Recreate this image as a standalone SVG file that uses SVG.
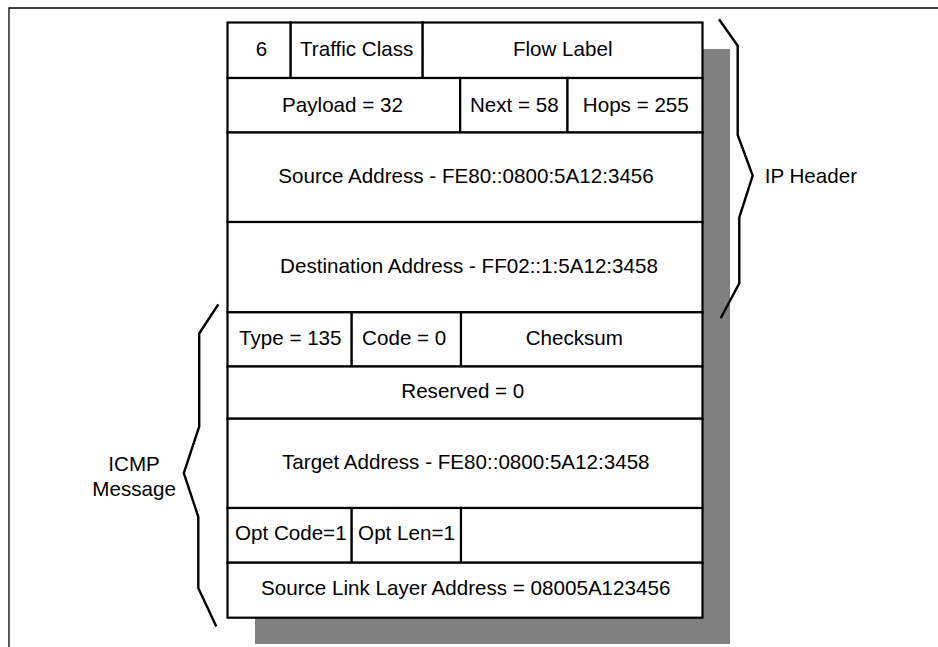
<svg xmlns="http://www.w3.org/2000/svg" width="938" height="647" viewBox="0 0 938 647">
<style>
.cell{fill:#fff;stroke:#000;stroke-width:2.2}
.t{font-family:"Liberation Sans",Arial,sans-serif;font-size:20.6px;fill:#000;text-anchor:middle}
.l{font-family:"Liberation Sans",Arial,sans-serif;font-size:20.6px;fill:#000}
.brace{fill:none;stroke:#000;stroke-width:2.4;stroke-linejoin:round;stroke-linecap:butt}
</style>
<rect width="938" height="647" fill="#fff"/>
<g id="frame">
<path d="M9,647 V8 H938" fill="none" stroke="#000" stroke-width="1.3"/>
</g>
<g id="shadow">
<rect x="255" y="49" width="475" height="595" fill="#808080"/>
</g>
<g id="ip-header">
<g id="version"><rect class="cell" x="227.5" y="22.5" width="63.2" height="55.5"/><text class="t" x="261.5" y="55.5">6</text></g>
<g id="traffic-class"><rect class="cell" x="290.7" y="22.5" width="132" height="55.5"/><text class="t" x="356.7" y="55.5">Traffic Class</text></g>
<g id="flow-label"><rect class="cell" x="422.7" y="22.5" width="279.8" height="55.5"/><text class="t" x="562.7" y="55.5">Flow Label</text></g>
<g id="payload"><rect class="cell" x="227.5" y="78" width="232.7" height="54.5"/><text class="t" x="342.5" y="111.7">Payload = 32</text></g>
<g id="next"><rect class="cell" x="460.2" y="78" width="107.3" height="54.5"/><text class="t" x="514.3" y="111.7">Next = 58</text></g>
<g id="hops"><rect class="cell" x="567.5" y="78" width="135" height="54.5"/><text class="t" x="635.8" y="111.7">Hops = 255</text></g>
<g id="source-address"><rect class="cell" x="227.5" y="132.5" width="475" height="89.5"/><text class="t" x="466" y="183.3">Source Address - FE80::0800:5A12:3456</text></g>
<g id="destination-address"><rect class="cell" x="227.5" y="222" width="475" height="90.3"/><text class="t" x="469" y="273.3">Destination Address - FF02::1:5A12:3458</text></g>
</g>
<g id="icmp-message">
<g id="type"><rect class="cell" x="227.5" y="312.3" width="124.2" height="54.2"/><text class="t" x="290.3" y="344.7">Type = 135</text></g>
<g id="code"><rect class="cell" x="351.7" y="312.3" width="109.3" height="54.2"/><text class="t" x="404.2" y="344.7">Code = 0</text></g>
<g id="checksum"><rect class="cell" x="461" y="312.3" width="241.5" height="54.2"/><text class="t" x="574.3" y="344.7">Checksum</text></g>
<g id="reserved"><rect class="cell" x="227.5" y="366.5" width="475" height="52.2"/><text class="t" x="462.8" y="397.7">Reserved = 0</text></g>
<g id="target-address"><rect class="cell" x="227.5" y="418.7" width="475" height="89.3"/><text class="t" x="465.8" y="469.3">Target Address - FE80::0800:5A12:3458</text></g>
<g id="opt-code"><rect class="cell" x="227.5" y="508" width="124.2" height="54.7"/><text class="t" x="290.8" y="539.7">Opt Code=1</text></g>
<g id="opt-len"><rect class="cell" x="351.7" y="508" width="109.3" height="54.7"/><text class="t" x="406.5" y="539.7">Opt Len=1</text></g>
<g id="opt-empty"><rect class="cell" x="461" y="508" width="241.5" height="54.7"/></g>
<g id="source-link-layer"><rect class="cell" x="227.5" y="562.7" width="475" height="55"/><text class="t" x="465.7" y="594.7">Source Link Layer Address = 08005A123456</text></g>
</g>
<g id="connectors">
<polyline class="brace" points="719,19.3 737.7,45.7 737.7,135 752.7,175.7 739.3,217.3 739.3,283.3 720.7,318.3"/>
<polyline class="brace" points="218.3,304.3 199.2,333.5 199.2,426.7 183.8,473.2 198.3,516.8 198.3,588 216.3,626.5"/>
</g>
<g id="label-ip-header"><text class="l" x="764.7" y="183.3">IP Header</text></g>
<g id="label-icmp"><text class="t" x="134.1" y="471">ICMP</text><text class="t" x="134.1" y="496.3">Message</text></g>
</svg>
